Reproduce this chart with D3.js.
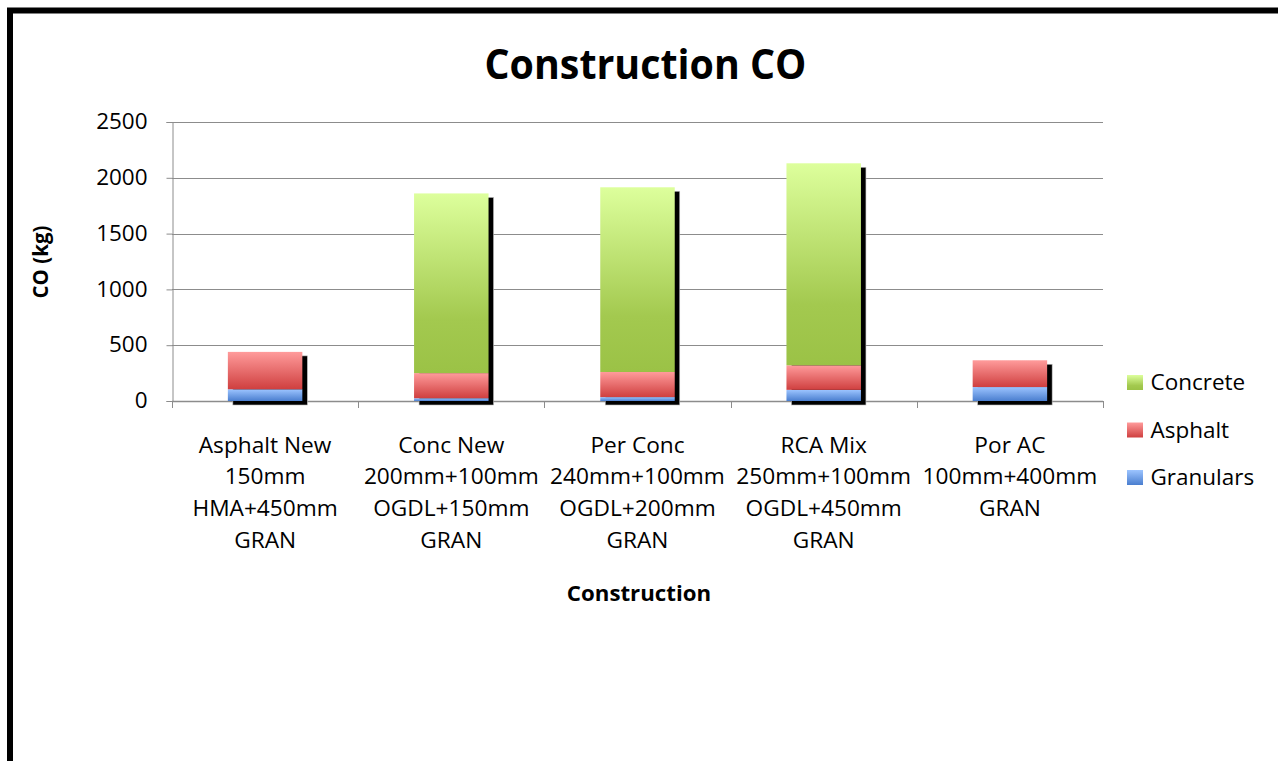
<!DOCTYPE html>
<html>
<head>
<meta charset="utf-8">
<script src="https://cdn.jsdelivr.net/npm/d3@7/dist/d3.min.js"></script>
<style>
  html, body { margin: 0; padding: 0; background: #fff; }
  svg { display: block; font-family: "Open Sans", Lato, sans-serif; }
</style>
</head>
<body>
<svg id="chart" width="1278" height="761"></svg>
<script>
// Construction CO emissions by pavement type, stacked by material
const categories = [
  ["Asphalt New", "150mm", "HMA+450mm", "GRAN"],
  ["Conc New", "200mm+100mm", "OGDL+150mm", "GRAN"],
  ["Per Conc", "240mm+100mm", "OGDL+200mm", "GRAN"],
  ["RCA Mix", "250mm+100mm", "OGDL+450mm", "GRAN"],
  ["Por AC", "100mm+400mm", "GRAN"]
];
const seriesNames = ["Granulars", "Asphalt", "Concrete"];
const granulars = [105, 25, 35, 100, 125];
const asphalt   = [335, 225, 225, 220, 240];
const concrete  = [0, 1610, 1655, 1810, 0];
const yTicks = [0, 500, 1000, 1500, 2000, 2500];

const FONT = "'Open Sans', Lato, sans-serif";
const svg = d3.select("#chart");
const plot = { left: 172, right: 1103, top: 122, bottom: 401 };

// Widen (or narrow) a text run horizontally by a factor, keeping its anchor.
function stretch(sel, factor) {
  sel.each(function () {
    const w = this.getComputedTextLength();
    if (w > 0) {
      d3.select(this)
        .attr("textLength", (w * factor).toFixed(2))
        .attr("lengthAdjust", "spacingAndGlyphs");
    }
  });
}

// Outer frame
svg.append("rect")
  .attr("x", 10).attr("y", 10.5)
  .attr("width", 1320).attr("height", 820)
  .attr("fill", "none").attr("stroke", "#000").attr("stroke-width", 6);

// Gradients for each series
const defs = svg.append("defs");
const gradSpecs = {
  Concrete:  [["0%", "#ddff9c"], ["70%", "#a3c94f"], ["100%", "#9bc246"]],
  Asphalt:   [["0%", "#ff9b9b"], ["100%", "#cf3f3f"]],
  Granulars: [["0%", "#9cc4ff"], ["100%", "#4a7ecf"]]
};
Object.entries(gradSpecs).forEach(([name, stops]) => {
  const g = defs.append("linearGradient")
    .attr("id", "grad-" + name)
    .attr("x1", 0).attr("y1", 0).attr("x2", 0).attr("y2", 1);
  stops.forEach(([o, c]) => g.append("stop").attr("offset", o).attr("stop-color", c));
});

const x = d3.scaleBand()
  .domain(d3.range(categories.length))
  .range([plot.left, plot.right])
  .paddingInner(0.6).paddingOuter(0.3);

const y = d3.scaleLinear().domain([0, 2500]).range([plot.bottom, plot.top]);

// Gridlines
svg.append("g")
  .selectAll("line")
  .data(yTicks.slice(1))
  .join("line")
  .attr("x1", plot.left).attr("x2", plot.right)
  .attr("y1", d => Math.round(y(d)) + 0.5).attr("y2", d => Math.round(y(d)) + 0.5)
  .attr("stroke", "#8c8c8c").attr("stroke-width", 1);

// Y axis
const yAxis = svg.append("g")
  .attr("transform", `translate(${plot.left + 0.5},0)`)
  .call(d3.axisLeft(y).tickValues(yTicks).tickSize(6).tickPadding(19).tickFormat(d3.format("d")));
yAxis.select(".domain").attr("stroke", "#8c8c8c");
yAxis.selectAll(".tick line").attr("stroke", "#8c8c8c");
yAxis.selectAll(".tick text")
  .attr("font-size", 21).attr("fill", "#000")
  .attr("font-family", FONT);
stretch(yAxis.selectAll(".tick text"), 1.07);

// X axis baseline with category separators
const sepX = d3.range(categories.length + 1).map(i => plot.left + i * (plot.right - plot.left) / categories.length);
svg.append("line")
  .attr("x1", plot.left).attr("x2", plot.right)
  .attr("y1", plot.bottom + 0.5).attr("y2", plot.bottom + 0.5)
  .attr("stroke", "#8c8c8c").attr("stroke-width", 1.5);
svg.append("g").selectAll("line")
  .data(sepX)
  .join("line")
  .attr("x1", d => Math.round(d) + 0.5).attr("x2", d => Math.round(d) + 0.5)
  .attr("y1", plot.bottom).attr("y2", plot.bottom + 7)
  .attr("stroke", "#8c8c8c");

// Stack the series
const rows = categories.map((c, i) => ({ i, Granulars: granulars[i], Asphalt: asphalt[i], Concrete: concrete[i] }));
const stacked = d3.stack().keys(seriesNames)(rows);
const totals = rows.map(r => r.Granulars + r.Asphalt + r.Concrete);

// Drop shadows behind each stacked bar
svg.append("g").selectAll("rect")
  .data(rows)
  .join("rect")
  .attr("x", d => x(d.i) + 5)
  .attr("y", d => y(totals[d.i]) + 4)
  .attr("width", x.bandwidth())
  .attr("height", d => y(0) - y(totals[d.i]))
  .attr("fill", "#000")
  .attr("stroke", "#bbb").attr("stroke-width", 0.6);

// Stacked bars
stacked.forEach(s => {
  svg.append("g").selectAll("rect")
    .data(s.filter(d => d[1] - d[0] > 0))
    .join("rect")
    .attr("x", d => x(d.data.i))
    .attr("y", d => y(d[1]))
    .attr("width", x.bandwidth())
    .attr("height", d => y(d[0]) - y(d[1]))
    .attr("fill", `url(#grad-${s.key})`);
});

// Category labels, one text element per line
const catG = svg.append("g");
categories.forEach((lines, i) => {
  const cx = x(i) + x.bandwidth() / 2;
  lines.forEach((ln, k) => {
    catG.append("text")
      .attr("x", cx).attr("y", 452.5 + k * 31.8)
      .attr("text-anchor", "middle")
      .attr("font-size", 21).attr("fill", "#000")
      .text(ln);
  });
});
stretch(catG.selectAll("text"), 1.08);

// Title and axis titles
const title = svg.append("text")
  .attr("x", 645.5).attr("y", 78.5)
  .attr("text-anchor", "middle")
  .attr("font-size", 41).attr("font-weight", "bold")
  .text("Construction CO");
stretch(title, 0.96);

const xTitle = svg.append("text")
  .attr("x", 639).attr("y", 601)
  .attr("text-anchor", "middle")
  .attr("font-size", 21).attr("font-weight", "bold")
  .text("Construction");
stretch(xTitle, 1.06);

svg.append("text")
  .attr("transform", "translate(48,262) rotate(-90)")
  .attr("text-anchor", "middle")
  .attr("font-size", 20.5).attr("font-weight", "bold")
  .text("CO (kg)");

// Legend
const legendItems = ["Concrete", "Asphalt", "Granulars"];
const lg = svg.append("g");
legendItems.forEach((name, k) => {
  const top = 375 + k * 47.5;
  lg.append("rect")
    .attr("x", 1127).attr("y", top)
    .attr("width", 16).attr("height", 15)
    .attr("fill", `url(#grad-${name})`);
  lg.append("text")
    .attr("x", 1150.5).attr("y", top + 15)
    .attr("font-size", 21).attr("fill", "#000")
    .text(name);
});
stretch(lg.selectAll("text"), 1.07);
</script>
</body>
</html>
